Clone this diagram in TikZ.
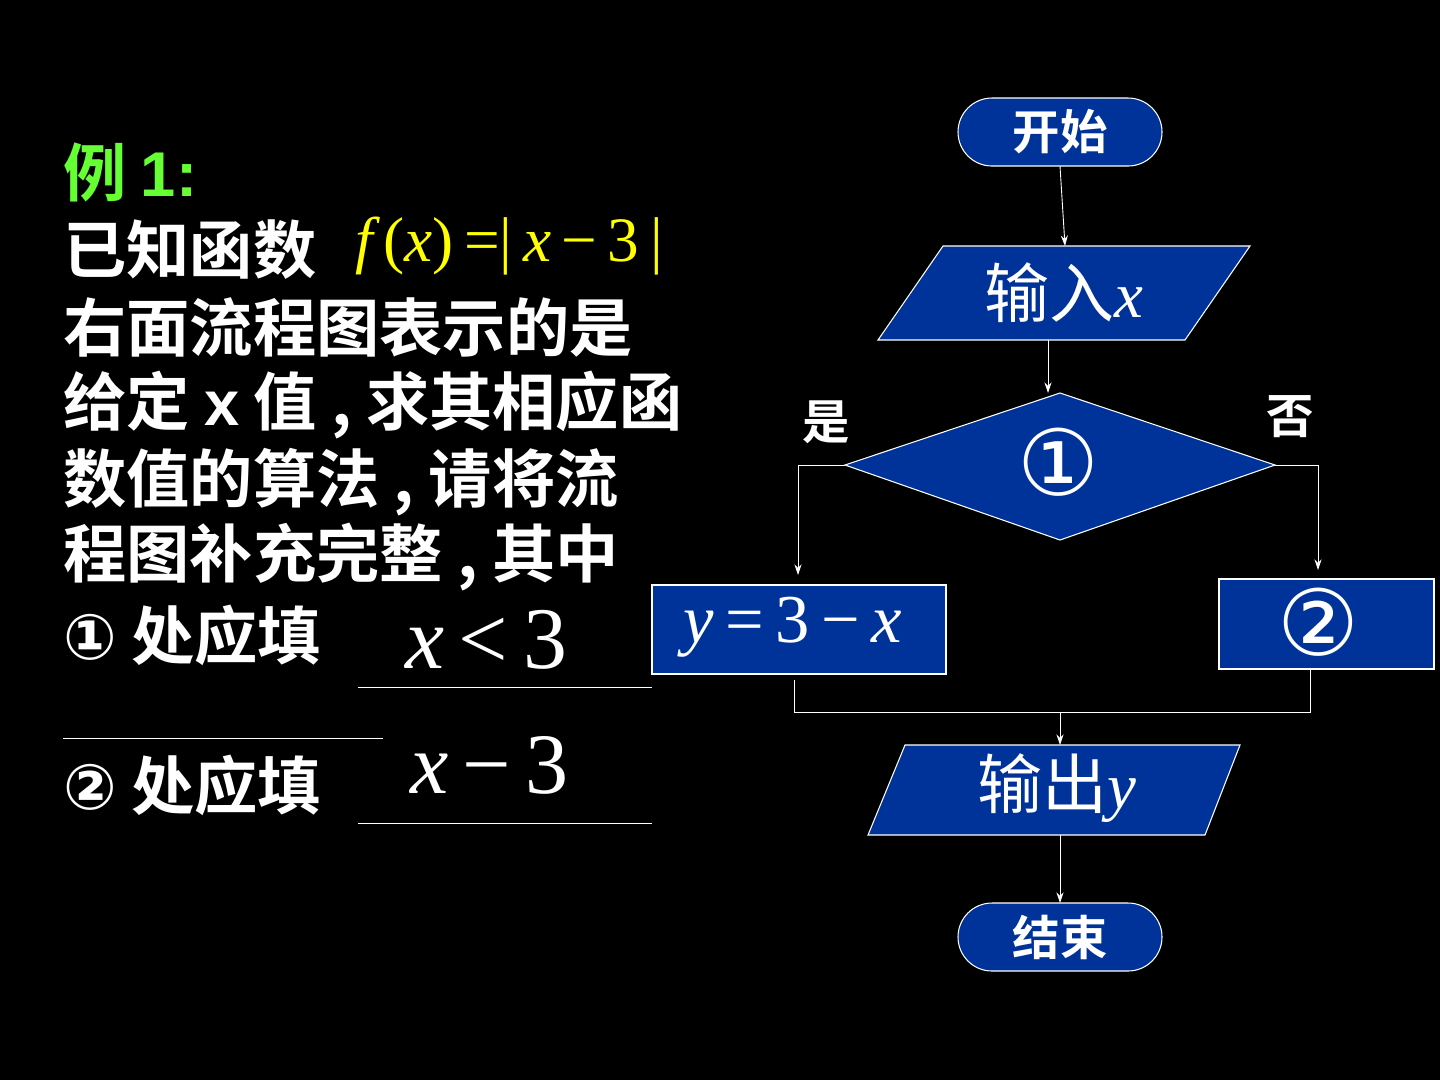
\documentclass[tikz,border=0pt]{standalone}
\usepackage{fontspec}
\setmainfont{Liberation Sans}
\newfontfamily\cjk{Noto Sans CJK SC}[BoldFont={Noto Sans CJK SC Bold}]
\newfontfamily\tms{Liberation Serif}
\newfontfamily\dv{DejaVu Sans}
\usetikzlibrary{arrows.meta}
\definecolor{fbl}{HTML}{003399}
\definecolor{grn}{HTML}{66FF33}
\definecolor{ylw}{HTML}{FFFF00}
\begin{document}
\begin{tikzpicture}[x=0.02cm,y=-0.02cm,
  txt/.style={anchor=west,inner sep=0,text=white,font=\fontsize{36}{36}\selectfont\bfseries\cjk},
  box/.style={fill=fbl,draw=white,line width=0.6pt},
  lbl/.style={inner sep=0,text=white},
  con/.style={draw=white,line width=0.5pt,-{Stealth[length=6pt,width=4pt]}},
  ln/.style={draw=white,line width=0.5pt}]
\fill[black] (0,0) rectangle (1440,1080);
\useasboundingbox (0,0) rectangle (1440,1080);
% left text
\node[txt,text=grn] (t0) at (63,172) {例 {\rmfamily\bfseries 1:}};
\node[txt] (t1) at (63,250) {已知函数};
\node[anchor=west,inner sep=0,text=ylw,font=\fontsize{36}{36}\selectfont\tms] (f) at (355,246) {\itshape f\upshape\,(\itshape x\upshape)\,=|\,\itshape x\upshape\,−\,3\,|};
\node[txt] (t2) at (63,327) {右面流程图表示的是};
\node[txt] (t3) at (63,405) {给定 {\rmfamily\bfseries x} 值 , 求其相应函};
\node[txt] (t4) at (63,482) {数值的算法 , 请将流};
\node[txt] (t5) at (63,557) {程图补充完整 , 其中};
\node[txt] (t6) at (63,635) {{\dv ①} 处应填};
\node[txt] (t7) at (63,785) {{\dv ②} 处应填};
\node[anchor=west,inner sep=0,text=white,font=\fontsize{50}{50}\selectfont\tms] (a1) at (405,640) {\itshape x\upshape\,<\,3};
\node[anchor=west,inner sep=0,text=white,font=\fontsize{49}{49}\selectfont\tms] (a2) at (410,765) {\itshape x\upshape\,−\,3};
\coordinate (u1a) at (358,687); \coordinate (u1b) at (652,687);
\coordinate (u2a) at (63,738); \coordinate (u2b) at (383,738);
\coordinate (u3a) at (358,823); \coordinate (u3b) at (652,823);
\draw[ln] (u1a)--(u1b); \draw[ln] (u2a)--(u2b); \draw[ln] (u3a)--(u3b);
% flowchart shapes
\draw[box,rounded corners=34*0.02cm] (958,98) rectangle (1162,166);
\node[lbl,font=\fontsize{27}{27}\selectfont\bfseries\cjk] (start) at (1060,132) {开始};
\draw[box] (943,246)--(1250,246)--(1185,340)--(878,340)--cycle;
\node[lbl,font=\fontsize{37}{37}\selectfont] (in) at (1064,293) {\cjk 输入\tms\itshape x};
\draw[box] (845,465)--(1060,393)--(1275,465)--(1060,540)--cycle;
\node[lbl,font=\fontsize{52}{52}\selectfont\dv] (d) at (1058,462) {①};
\node[lbl,font=\fontsize{27}{27}\selectfont\bfseries\cjk] (yes) at (826,422) {是};
\node[lbl,font=\fontsize{27}{27}\selectfont\bfseries\cjk] (no) at (1290,417) {否};
\draw[box] (652,585) rectangle (946,674);
\node[lbl,font=\fontsize{39}{39}\selectfont\tms] (r1) at (793,627) {\itshape y\upshape\,=\,3\,−\,\itshape x};
\draw[box] (1219,579) rectangle (1434,669);
\node[lbl,font=\fontsize{52}{52}\selectfont\dv] (r2) at (1318,622) {②};
\draw[box] (905,745)--(1240,745)--(1205,835)--(868,835)--cycle;
\node[lbl,font=\fontsize{37}{37}\selectfont] (out) at (1057,788) {\cjk 输出\tms\itshape y};
\draw[box,rounded corners=34*0.02cm] (958,903) rectangle (1162,971);
\node[lbl,font=\fontsize{27}{27}\selectfont\bfseries\cjk] (end) at (1060,937) {结束};
% connectors
\coordinate (c1) at (1060,166); \coordinate (c2) at (1065,246);
\coordinate (c3) at (1048,340); \coordinate (c4) at (1048,393);
\coordinate (dl) at (845,465); \coordinate (dl2) at (798,465); \coordinate (dl3) at (798,575);
\coordinate (dr) at (1275,465); \coordinate (dr2) at (1318,465); \coordinate (dr3) at (1318,570);
\coordinate (b1) at (794,680); \coordinate (b2) at (794,712); \coordinate (b3) at (1310,712); \coordinate (b4) at (1310,669);
\coordinate (m1) at (1060,712); \coordinate (m2) at (1060,745);
\coordinate (o1) at (1060,835); \coordinate (o2) at (1060,903);
\draw[con] (c1)--(c2);
\draw[con] (c3)--(c4);
\draw[con] (dl)--(dl2)--(dl3);
\draw[con] (dr)--(dr2)--(dr3);
\draw[ln] (b1)--(b2)--(b3)--(b4);
\draw[con] (m1)--(m2);
\draw[con] (o1)--(o2);
\end{tikzpicture}
\end{document}
